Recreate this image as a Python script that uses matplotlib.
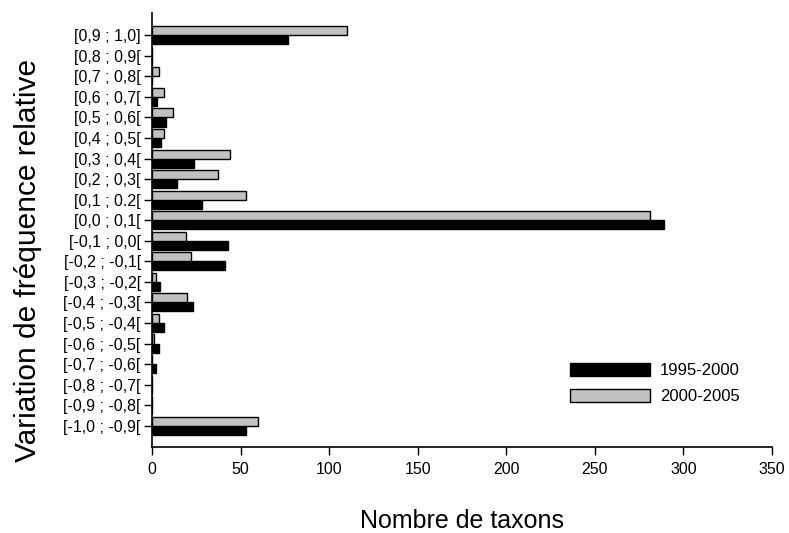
import matplotlib
matplotlib.use("Agg")
import matplotlib.pyplot as plt
import numpy as np

plt.rcParams['font.family'] = ['Liberation Sans', 'DejaVu Sans']

# Classes de variation (de bas en haut)
classes = ["[-1,0 ; -0,9[", "[-0,9 ; -0,8[", "[-0,8 ; -0,7[", "[-0,7 ; -0,6[",
           "[-0,6 ; -0,5[", "[-0,5 ; -0,4[", "[-0,4 ; -0,3[", "[-0,3 ; -0,2[",
           "[-0,2 ; -0,1[", "[-0,1 ; 0,0[", "[0,0 ; 0,1[", "[0,1 ; 0.2[",
           "[0,2 ; 0,3[", "[0,3 ; 0,4[", "[0,4 ; 0,5[", "[0,5 ; 0,6[",
           "[0,6 ; 0,7[", "[0,7 ; 0,8[", "[0,8 ; 0,9[", "[0,9 ; 1,0]"]
p1995 = [53, 0, 0, 2.5, 4, 7, 23, 4.5, 41, 43, 289, 28, 14, 24, 5, 8, 3, 0, 0, 77]
p2000 = [60, 0, 0, 0, 1, 4, 20, 2, 22, 19, 281, 53, 37, 44, 7, 12, 7, 4, 0, 110]

y = np.arange(len(classes))
h = 0.44

fig = plt.figure(figsize=(7.89, 5.33), dpi=100)
ax = fig.add_axes([0.1926, 0.162, 0.7858, 0.813])

ax.barh(y - h / 2, p1995, height=h, color="black", edgecolor="black",
        linewidth=1, label="1995-2000")
ax.barh(y + h / 2, p2000, height=h, color="#c0c0c0", edgecolor="black",
        linewidth=1, label="2000-2005")

ax.set_xlim(0, 350)
ax.set_ylim(-1.02, len(classes) - 1 + 1.07)
ax.set_xticks(np.arange(0, 351, 50))
ax.set_yticks(y)
ax.set_yticklabels(classes)
ax.tick_params(axis="both", labelsize=11.5, direction="out", length=6, width=1)
ax.tick_params(axis="x", pad=5)
ax.tick_params(axis="y", pad=2)

ax.spines["top"].set_visible(False)
ax.spines["right"].set_visible(False)
ax.spines["left"].set_linewidth(1.2)
ax.spines["bottom"].set_linewidth(1.2)

ax.set_xlabel("Nombre de taxons", fontsize=18, va="center")
ax.xaxis.set_label_coords(0.5, -0.172)
ax.set_ylabel("Variation de fréquence relative", fontsize=21.5, va="center")
ax.yaxis.set_label_coords(-0.2, 0.43)

ax.legend(loc="center left", bbox_to_anchor=(0.65, 0.145), frameon=False,
          fontsize=12, handlelength=4.8, handleheight=0.8, labelspacing=0.65,
          handletextpad=0.6)

fig.savefig("out.png", dpi=100)
